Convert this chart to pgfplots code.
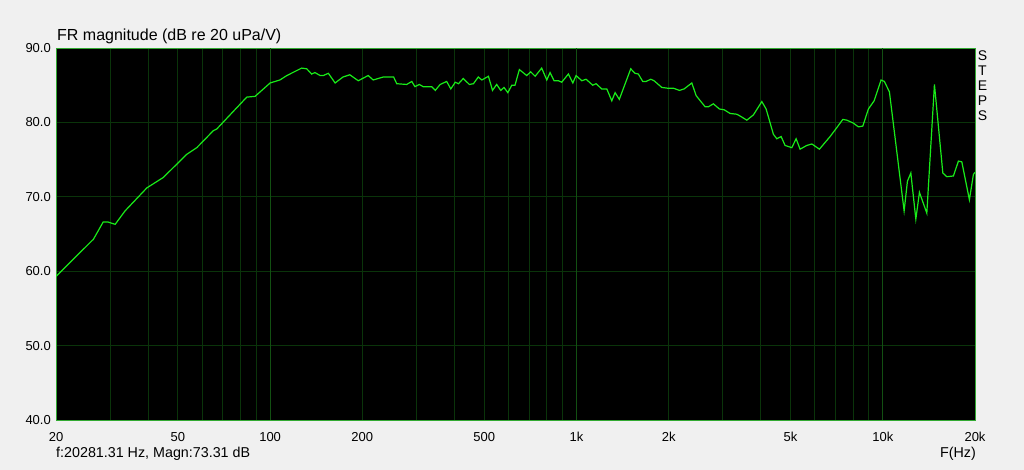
\documentclass[border=0pt]{standalone}
\usepackage{pgfplots}
\pgfplotsset{compat=1.18}
\usepackage{fontspec}
\setmainfont{Liberation Sans}
\definecolor{bggray}{RGB}{240,240,240}
\definecolor{gridmin}{RGB}{10,52,10}
\definecolor{gridmaj}{RGB}{18,80,18}
\definecolor{frame}{RGB}{50,170,50}
\definecolor{curve}{RGB}{25,235,25}
\begin{document}
\begin{tikzpicture}[x=1pt,y=1pt]
\path[use as bounding box, fill=bggray] (0,0) rectangle (1024,470);
\begin{axis}[
  at={(56pt,50pt)}, anchor=south west,
  scale only axis, width=919pt, height=372pt,
  xmode=log, xmin=20, xmax=20000, ymin=40, ymax=90,
  axis background/.style={fill=black},
  axis line style={frame, line width=0.9pt},
  xtick={20,50,100,200,500,1000,2000,5000,10000,20000},
  xticklabels={20,50,100,200,500,1k,2k,5k,10k,20k},
  minor xtick={30,40,60,70,80,90,300,400,600,700,800,900,3000,4000,6000,7000,8000,9000},
  extra x ticks={100,1000,10000},
  extra x tick labels={},
  extra x tick style={major grid style={gridmaj, line width=0.9pt}},
  ytick={40,50,60,70,80,90},
  grid=both,
  major grid style={gridmin, line width=0.85pt},
  minor grid style={gridmin, line width=0.85pt},
  major tick length=0pt, minor tick length=0pt,
  /pgf/number format/assume math mode=true,
  tick label style={font=\fontsize{13}{15}\selectfont, inner sep=0pt},
  xticklabel style={anchor=north, yshift=-12pt},
  yticklabel style={anchor=east, xshift=-5pt, /pgf/number format/.cd, fixed, fixed zerofill, precision=1},
]
\addplot[curve, line width=1.2pt] coordinates {
(20,59.3) (26.5,64.3) (28.5,66.6) (29.6,66.6) (31.2,66.3) (33.6,68.1) (39.6,71.2) (44.8,72.6)
(53.4,75.7) (57.6,76.6) (65.3,78.9) (66.9,79.1) (83.9,83.4) (89.3,83.5) (100,85.3) (107.6,85.7)
(113.4,86.3) (126.8,87.3) (131.7,87.2) (136.6,86.5) (140,86.7) (145.6,86.3) (149.2,86.3) (154.9,86.6)
(163,85.3) (173,86.1) (182,86.4) (194,85.6) (209,86.3) (217,85.7) (234,86.1) (253,86.1)
(259,85.2) (279,85.1) (290,85.5) (297,84.8) (307,85.1) (316,84.8) (337,84.8) (346,84.3)
(359,85.1) (377,85.5) (389,84.5) (402,85.4) (412,85.2) (427,85.9) (447,85.1) (461,85.2)
(478,86.1) (491,85.7) (516,86.2) (532,84.3) (549,85.1) (566,84.3) (580,84.7) (597,84.0)
(615,85.0) (630,85.0) (651,87.1) (688,86.3) (709,86.8) (733,86.2) (770,87.3) (800,85.7)
(820,86.7) (845,85.6) (873,85.6) (895,85.4) (941,86.5) (973,85.3) (997,86.3) (1041,85.6)
(1075,85.8) (1130,85.0) (1159,85.2) (1209,84.5) (1256,84.5) (1304,82.9) (1337,84.0) (1380,83.1)
(1504,87.2) (1553,86.6) (1592,86.5) (1646,85.5) (1687,85.5) (1748,85.8) (1792,85.6) (1899,84.7)
(1981,84.6) (2072,84.6) (2168,84.3) (2246,84.5) (2380,85.3) (2458,83.6) (2630,82.1) (2696,82.1)
(2798,82.5) (2928,81.8) (3034,81.7) (3174,81.2) (3338,81.1) (3440,80.8) (3598,80.3) (3780,81.0)
(4028,82.8) (4160,81.8) (4394,78.4) (4508,77.8) (4656,78.1) (4798,76.9) (5046,76.6) (5212,77.8)
(5370,76.4) (5646,76.9) (5866,77.1) (6012,76.8) (6210,76.4) (6730,78.1) (7078,79.3) (7404,80.4)
(7630,80.3) (8018,79.9) (8324,79.4) (8604,79.5) (8974,81.8) (9368,82.9) (9874,85.7) (10122,85.5)
(10510,84.1) (11738,68.1) (12034,72.1) (12346,73.2) (12818,67.0) (13170,70.6) (13922,67.8) (14744,85.1)
(15702,73.2) (16180,72.7) (17006,72.8) (17656,74.8) (18112,74.7) (19174,69.6) (19760,73.0) (20000,73.3)
};
\end{axis}
\node[anchor=base west, inner sep=0pt, font=\fontsize{16}{18}\selectfont] at (57,429.5) {FR magnitude (dB re 20 uPa/V)};
\node[anchor=north, inner sep=0pt, align=center, font=\fontsize{14}{15}\selectfont] at (982.5,419) {S\\T\\E\\P\\S};
\node[anchor=base west, inner sep=0pt, font=\fontsize{14.3}{16}\selectfont] at (56,12) {f:20281.31 Hz, Magn:73.31 dB};
\node[anchor=base east, inner sep=0pt, font=\fontsize{14.3}{16}\selectfont] at (976,12) {F(Hz)};
\end{tikzpicture}
\end{document}
